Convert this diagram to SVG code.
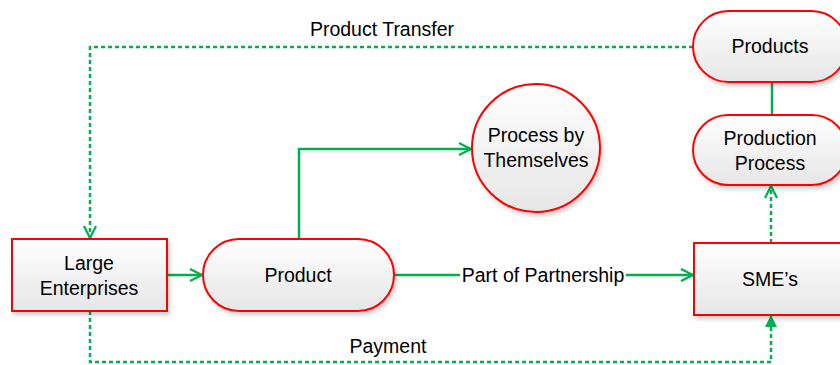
<svg xmlns="http://www.w3.org/2000/svg" width="840" height="365" viewBox="0 0 840 365">
<defs>
<linearGradient id="g" x1="0" y1="0" x2="0" y2="1">
<stop offset="0" stop-color="#ffffff"/>
<stop offset="1" stop-color="#e6e6e6"/>
</linearGradient>
<filter id="sh" x="-10%" y="-10%" width="130%" height="130%">
<feDropShadow dx="2" dy="3" stdDeviation="2" flood-color="#000" flood-opacity="0.2"/>
</filter>
<marker id="open" viewBox="0 0 14 14" refX="13" refY="7" markerWidth="14" markerHeight="14" markerUnits="userSpaceOnUse" orient="auto">
<path d="M1,1 L13,7 L1,13" fill="none" stroke="#00B050" stroke-width="2.2"/>
</marker>
<marker id="tri" viewBox="0 0 12 12" refX="11" refY="6" markerWidth="12" markerHeight="12" markerUnits="userSpaceOnUse" orient="auto">
<path d="M0,0 L12,6 L0,12 Z" fill="#00B050"/>
</marker>
</defs>
<style>
.node{fill:url(#g);stroke:#FF0000;stroke-width:2;filter:url(#sh)}
.t{font-family:"Liberation Sans",Arial,sans-serif;font-size:19.5px;fill:#000;text-anchor:middle}
.c{fill:none;stroke:#00B050;stroke-width:2.5}
.d{stroke-dasharray:4,3}
</style>
<g id="connectors">
<path class="c" d="M167,275 H202" marker-end="url(#open)"/>
<path class="c" d="M299,239 V149 H471" marker-end="url(#open)"/>
<path class="c" d="M394,275 H460"/>
<path class="c" d="M626,275 H693" marker-end="url(#open)"/>
<path class="c" d="M772,82 V115"/>
<path class="c d" d="M771,243 V186" marker-end="url(#open)"/>
<path class="c d" d="M693,47 H90 V238" marker-end="url(#open)"/>
<path class="c d" d="M90,311 V362 H771 V316" marker-end="url(#tri)"/>
<text class="t" x="382" y="36">Product Transfer</text>
<text class="t" x="388" y="353">Payment</text>
<text class="t" x="543" y="282">Part of Partnership</text>
</g>
<g id="large-enterprises">
<rect class="node" x="12" y="239" width="155" height="72"/>
<text class="t" x="89" y="270">Large</text>
<text class="t" x="89" y="295">Enterprises</text>
</g>
<g id="product">
<rect class="node" x="203" y="239" width="191" height="72" rx="36"/>
<text class="t" x="298" y="282">Product</text>
</g>
<g id="process-by-themselves">
<circle class="node" cx="536" cy="148" r="64"/>
<text class="t" x="536" y="142">Process by</text>
<text class="t" x="536" y="167">Themselves</text>
</g>
<g id="products">
<rect class="node" x="693" y="11" width="154" height="71" rx="35.5"/>
<text class="t" x="770" y="53">Products</text>
</g>
<g id="production-process">
<rect class="node" x="693" y="115" width="154" height="70" rx="35"/>
<text class="t" x="770" y="145">Production</text>
<text class="t" x="770" y="170">Process</text>
</g>
<g id="smes">
<rect class="node" x="694" y="243" width="152" height="72"/>
<text class="t" x="770" y="286">SME’s</text>
</g>
</svg>
